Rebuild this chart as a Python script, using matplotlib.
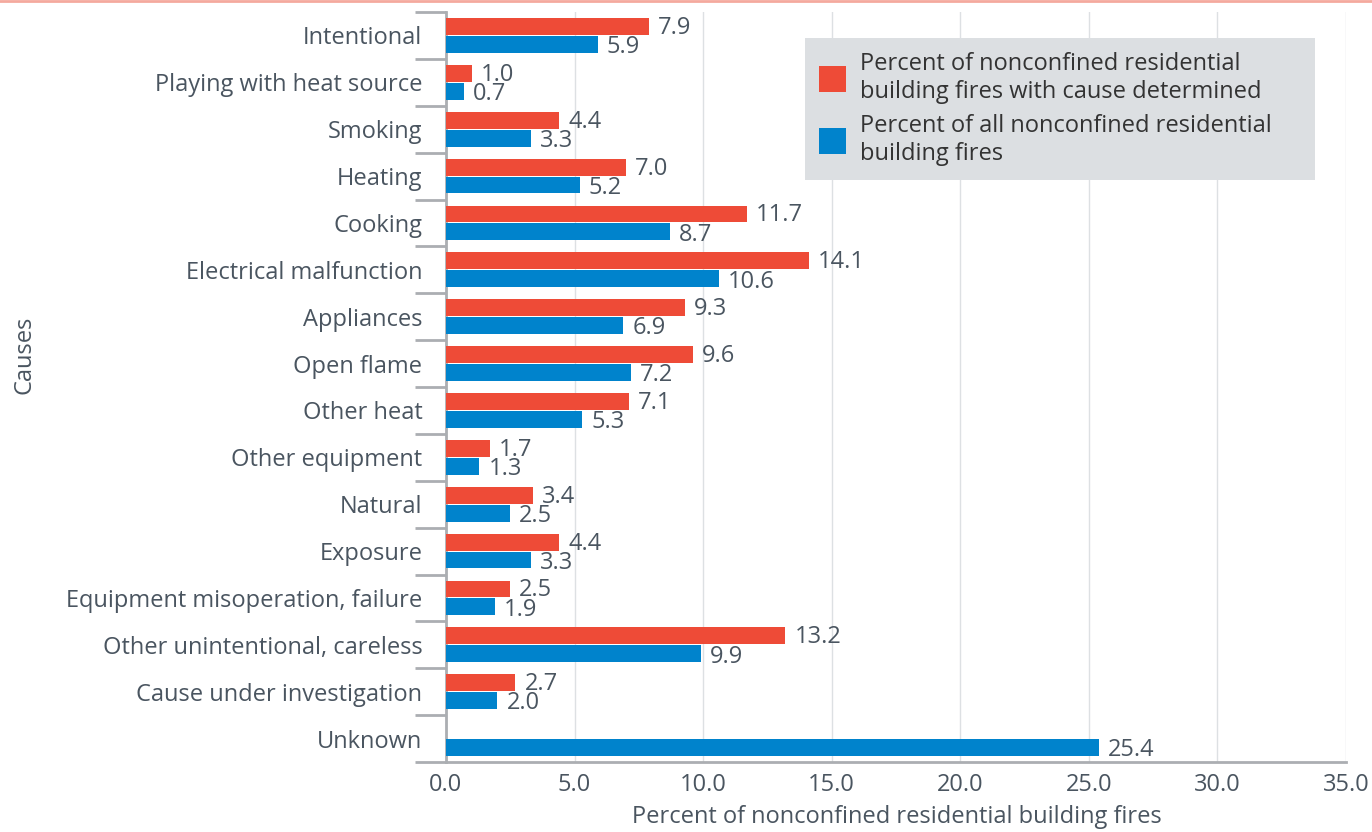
import matplotlib.pyplot as plt
from matplotlib.lines import Line2D
import numpy as np

#Data
causes = ['Intentional', 'Playing with heat source', 'Smoking', 'Heating', 'Cooking',
          'Electrical malfunction', 'Appliances', 'Open flame', 'Other heat',
          'Other equipment', 'Natural', 'Exposure', 'Equipment misoperation, failure',
          'Other unintentional, careless', 'Cause under investigation', 'Unknown']
cause_determined = [7.9, 1.0, 4.4, 7.0, 11.7, 14.1, 9.3, 9.6, 7.1, 1.7, 3.4, 4.4, 2.5, 13.2, 2.7, None]
all_fires = [5.9, 0.7, 3.3, 5.2, 8.7, 10.6, 6.9, 7.2, 5.3, 1.3, 2.5, 3.3, 1.9, 9.9, 2.0, 25.4]
x_ticks = [0, 5, 10, 15, 20, 25, 30, 35]

RED = '#EE4B37'
BLUE = '#0083CC'
TEXT = '#4A5560'
AXIS = '#ABAEB2'
FS = 17

plt.rcParams['font.family'] = ['Open Sans', 'DejaVu Sans']

fig = plt.figure(figsize=(13.72, 8.32), dpi=100)
ax = fig.add_axes([446/1372, 1 - 762/832, 900/1372, 750/832])

y = np.arange(len(causes))
h = 0.36
red_vals = [np.nan if v is None else v for v in cause_determined]

ax.barh(y - 0.19, red_vals, height=h, color=RED, label='Percent of nonconfined residential\nbuilding fires with cause determined', zorder=3)
ax.barh(y + 0.19, all_fires, height=h, color=BLUE, label='Percent of all nonconfined residential\nbuilding fires', zorder=3)

#Value labels
for i, v in enumerate(cause_determined):
    if v is not None:
        ax.text(v + 0.35, i - 0.16, f'{v:.1f}', va='center', ha='left', fontsize=FS, color=TEXT)
for i, v in enumerate(all_fires):
    ax.text(v + 0.35, i + 0.25, f'{v:.1f}', va='center', ha='left', fontsize=FS, color=TEXT)

ax.set_xlim(0, 35)
ax.set_ylim(len(causes) - 0.5, -0.5)
ax.set_xticks(x_ticks)
ax.set_xticklabels([f'{t:.1f}' for t in x_ticks], fontsize=FS, color=TEXT)
ax.set_yticks(y)
ax.set_yticklabels(causes, fontsize=FS, color=TEXT)
ax.set_yticks(np.arange(-0.5, len(causes)), minor=True)
ax.tick_params(axis='y', which='major', length=0, pad=17)
ax.tick_params(axis='y', which='minor', length=22, width=2, color=AXIS)
ax.tick_params(axis='x', length=0, pad=8)

ax.grid(axis='x', color='#DDE0E3', linewidth=1, zorder=0)
for s in ['top', 'right']:
    ax.spines[s].set_visible(False)
for s in ['left', 'bottom']:
    ax.spines[s].set_color(AXIS)
    ax.spines[s].set_linewidth(2)

ax.set_xlabel('Percent of nonconfined residential building fires', fontsize=FS, color=TEXT)
ax.set_ylabel('Causes', fontsize=FS, color=TEXT)
ax.yaxis.set_label_coords(-0.455, 0.543)
ax.xaxis.set_label_coords(0.501, -0.057)

leg = ax.legend(loc='upper left', bbox_to_anchor=(805/1372, 1 - 182/832, 510/1372, 144/832),
                bbox_transform=fig.transFigure, mode='expand', borderaxespad=0,
                fontsize=FS, frameon=True, fancybox=False, handlelength=1.15, handleheight=1.3,
                labelcolor='#333333', borderpad=0.6, labelspacing=0.45, handletextpad=0.6)
leg.get_frame().set_facecolor('#DCDFE2')
leg.get_frame().set_edgecolor('none')
leg.get_frame().set_alpha(1)

#Thin line along the top edge
fig.add_artist(Line2D([0, 1], [0.999, 0.999], transform=fig.transFigure, color='#F4A99E', linewidth=2))

plt.savefig('out.png', dpi=100)
